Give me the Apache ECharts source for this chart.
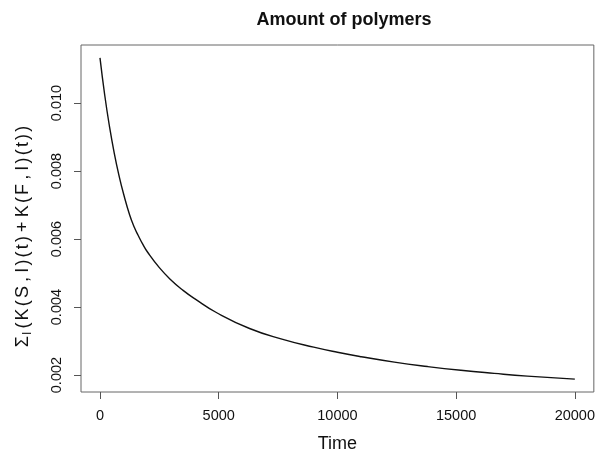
<!DOCTYPE html>
<html>
<head>
<meta charset="utf-8">
<script src="https://cdn.jsdelivr.net/npm/echarts@6/dist/echarts.min.js"></script>
<style>
  html, body { margin: 0; padding: 0; background: #fff; }
  #chart { width: 598px; height: 458px; }
</style>
</head>
<body>
<div id="chart"></div>
<script>
// values
const times = [0, 200, 400, 600, 800, 1000, 1250, 1450, 1600, 1800, 2000, 2500, 3000, 3500, 4000, 4900,
  6300, 7700, 9000, 10000, 11000, 12400, 13800, 15200, 16600, 18000, 20000];
const amounts = [0.01133, 0.01023, 0.00931, 0.00853, 0.00787, 0.00731, 0.00671, 0.00634, 0.00612,
  0.00585, 0.00562, 0.00516, 0.00479, 0.00449, 0.00424, 0.00384, 0.00337, 0.00305, 0.00282,
  0.00267, 0.00254, 0.00238, 0.00225, 0.00214, 0.00205, 0.00197, 0.00188];
const xTicks = [0, 5000, 10000, 15000, 20000];
const yTicks = [0.002, 0.004, 0.006, 0.008, 0.010];

const font = "Liberation Sans";
const textColor = "#111";

// y axis title: Σ with subscript I, then the sum (set a bit loosely, like R plotmath)
const yTitleHead = "Σ";
const yTitleSub = "I";
const yTitleRest = "(K(S,I)(t)+K(F,I)(t))";
const yTitle = "{c|" + yTitleHead + "}{sub|" + yTitleSub + "}" +
  yTitleRest.split("").map((ch) => (ch === "+" || ch === "," ? "{op|" : "{c|") + ch + "}").join("");

let chart = echarts.init(document.getElementById("chart"));

chart.setOption({
  animation: false,
  title: {
    text: "Amount of polymers",
    left: 339,
    top: 6,
    textAlign: "center",
    textStyle: { fontFamily: font, fontSize: 18, fontWeight: "bold", color: textColor },
  },
  grid: {
    left: 81,
    right: 1,
    top: 45,
    bottom: 64,
    show: true,
    borderColor: "#666",
    borderWidth: 1,
  },
  xAxis: {
    type: "value",
    min: -800,
    max: 20800,
    name: "Time",
    nameLocation: "middle",
    nameGap: 43,
    nameTextStyle: { fontFamily: font, fontSize: 18, color: textColor },
    axisLine: { show: false, onZero: false },
    splitLine: { show: false },
    axisTick: {
      show: true,
      length: 7,
      customValues: xTicks,
      lineStyle: { color: "#555" },
    },
    axisLabel: {
      customValues: xTicks,
      margin: 16,
      fontFamily: font,
      fontSize: 14.5,
      color: textColor,
      formatter: (v) => String(v),
    },
  },
  yAxis: {
    type: "value",
    min: 0.001502,
    max: 0.011708,
    name: yTitle,
    nameLocation: "middle",
    nameGap: 47,
    nameRotate: 90,
    nameTextStyle: {
      fontFamily: font,
      fontSize: 18,
      color: textColor,
      padding: [0, 36, 0, 0],
      rich: {
        c: { fontFamily: font, fontSize: 18, color: textColor, lineHeight: 22, padding: [0, 1.1, 0, 1.1] },
        op: { fontFamily: font, fontSize: 18, color: textColor, lineHeight: 22, padding: [0, 3, 0, 3] },
        sub: { fontFamily: font, fontSize: 12, color: textColor, lineHeight: 8, verticalAlign: "bottom", padding: [0, 2, 0, 0] },
      },
    },
    axisLine: { show: false, onZero: false },
    splitLine: { show: false },
    axisTick: {
      show: true,
      length: 7,
      customValues: yTicks,
      lineStyle: { color: "#555" },
    },
    axisLabel: {
      customValues: yTicks,
      rotate: 90,
      margin: 17,
      fontFamily: font,
      fontSize: 14.5,
      color: textColor,
      formatter: (v) => v.toFixed(3),
    },
  },
  series: [
    {
      type: "line",
      data: times.map((t, i) => [t, amounts[i]]),
      smooth: 0.5,
      showSymbol: false,
      lineStyle: { color: "#111", width: 1.4 },
    },
  ],
});
</script>
</body>
</html>
